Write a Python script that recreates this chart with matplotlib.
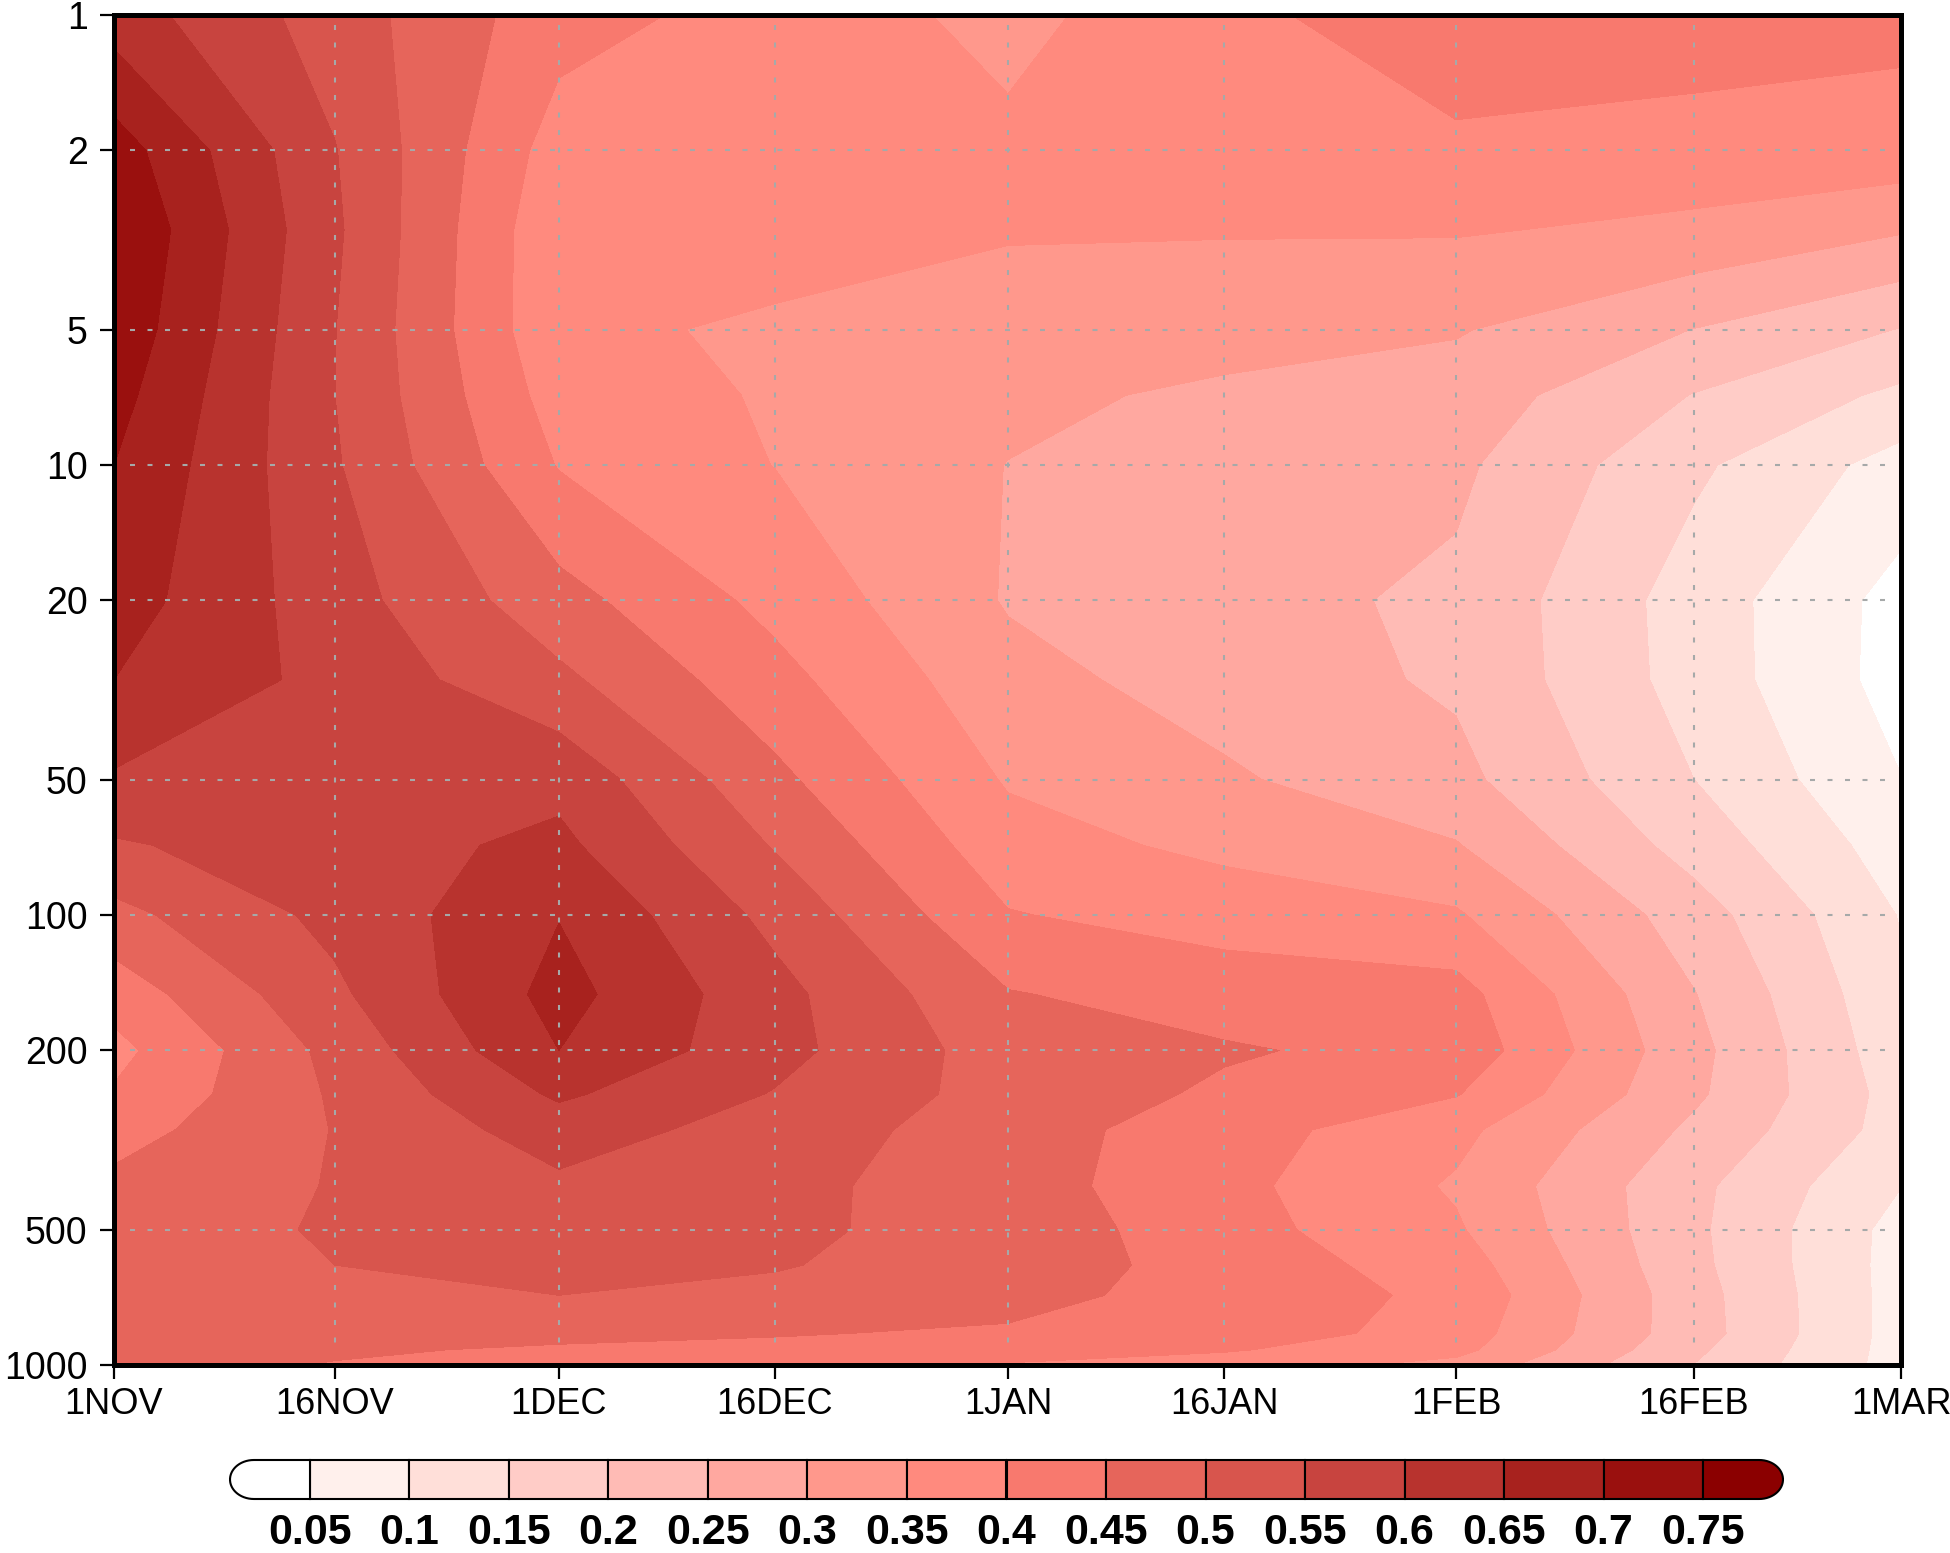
import matplotlib
matplotlib.use('Agg')
import matplotlib.pyplot as plt
import numpy as np
from matplotlib.patches import Polygon

# Time axis: tick labels and where they sit on the (slightly uneven) date axis
date_labels = ['1NOV', '16NOV', '1DEC', '16DEC', '1JAN', '16JAN', '1FEB', '16FEB', '1MAR']
date_pos = [0, 14.84, 29.88, 44.39, 60.03, 74.54, 90.12, 106.10, 120]

# Pressure levels of the data and the ones that get a tick
pressure = [1, 2, 3, 5, 7, 10, 20, 30, 50, 70, 100, 150, 200, 250, 300, 400, 500, 600, 700, 850, 925, 1000]
pressure_ticks = [1, 2, 5, 10, 20, 50, 100, 200, 500, 1000]

# Values, one row per pressure level, one column per date
values = [
    [.625, .526, .420, .379, .336, .386, .434, .430, .412],
    [.725, .552, .377, .368, .360, .380, .390, .378, .381],
    [.749, .558, .360, .370, .353, .353, .354, .340, .305],
    [.736, .551, .360, .343, .334, .322, .304, .249, .198],
    [.718, .550, .377, .345, .312, .290, .277, .198, .139],
    [.700, .555, .397, .349, .299, .272, .260, .159, .080],
    [.674, .572, .468, .385, .296, .268, .240, .127, .032],
    [.650, .584, .511, .416, .316, .279, .242, .129, .030],
    [.594, .580, .585, .462, .345, .307, .264, .150, .051],
    [.544, .578, .612, .496, .370, .338, .303, .179, .075],
    [.485, .564, .648, .535, .403, .378, .356, .223, .097],
    [.421, .540, .668, .566, .453, .428, .419, .252, .110],
    [.385, .515, .650, .567, .475, .455, .434, .265, .119],
    [.405, .506, .608, .547, .480, .442, .403, .259, .130],
    [.430, .502, .574, .528, .473, .422, .364, .240, .129],
    [.462, .503, .540, .514, .472, .415, .344, .212, .101],
    [.475, .505, .527, .509, .481, .420, .356, .210, .082],
    [.480, .500, .515, .503, .478, .429, .375, .213, .080],
    [.485, .490, .500, .490, .467, .429, .389, .220, .080],
    [.470, .460, .460, .453, .444, .432, .376, .222, .080],
    [.470, .455, .445, .440, .430, .405, .365, .210, .080],
    [.465, .448, .435, .425, .395, .375, .335, .199, .080],
]

# Contour levels and the colour of each band
clevels = [.05, .1, .15, .2, .25, .3, .35, .4, .45, .5, .55, .6, .65, .7, .75]
clabels = ['0.05', '0.1', '0.15', '0.2', '0.25', '0.3', '0.35', '0.4', '0.45',
           '0.5', '0.55', '0.6', '0.65', '0.7', '0.75']
band_colors = ['#FFFFFF', '#FFF0EC', '#FFDFD9', '#FFCCC7', '#FFBBB5', '#FFA8A0', '#FF988C', '#FF8A7E',
               '#F8796E', '#E6655B', '#D8554D', '#C8443F', '#B8332E', '#A8221E', '#9A100E', '#8B0000']

W, H = 1950, 1553
label_font = ['Liberation Sans', 'DejaVu Sans']

fig = plt.figure(figsize=(W / 100, H / 100), dpi=100)
fig.patch.set_facecolor('white')

# Main panel
left, right, top, bottom = 114, 1901, 15, 1365
ax = fig.add_axes([left / W, 1 - bottom / H, (right - left) / W, (bottom - top) / H])

logp = np.log10(pressure)
ax.contourf(date_pos, logp, np.array(values), levels=[0] + clevels + [1], colors=band_colors)

ax.set_xlim(0, 120)
ax.set_ylim(3, 0)

# Dotted grid, stops a little short of the frame as in the original
grid_style = dict(colors='#A6A9A9', linewidth=1.5, linestyles=[(0, (2.4, 6))], zorder=3)
ax.hlines(np.log10(pressure_ticks[1:-1]), 1.1, 119.1, **grid_style)
ax.vlines(date_pos[1:-1], 0.022, 2.967, **grid_style)

ax.set_xticks(date_pos)
ax.set_xticklabels(date_labels, family=label_font, fontsize=26)
ax.set_yticks(np.log10(pressure_ticks))
ax.set_yticklabels([str(p) for p in pressure_ticks], family=label_font, fontsize=27)
ax.tick_params(axis='both', length=10, width=1.6, color='black', direction='out')
ax.tick_params(axis='x', pad=6)
ax.tick_params(axis='y', pad=9)
for spine in ax.spines.values():
    spine.set_linewidth(3.6)
    spine.set_zorder(5)

# Colour bar with rounded ends
bar_left, bar_right, bar_top, bar_bottom = 230, 1783, 1460, 1499
cax = fig.add_axes([bar_left / W, 1 - bar_bottom / H, (bar_right - bar_left) / W, (bar_bottom - bar_top) / H])
cax.set_xlim(.0098, .7902)
cax.set_ylim(0, 1)
cax.axis('off')

cax.barh(0.5, [.05] * 14, height=1, left=clevels[:-1], color=band_colors[1:-1],
         edgecolor='black', linewidth=1.5, clip_on=False)

theta = np.linspace(np.pi / 2, 3 * np.pi / 2, 30)
cap_x = .0098 + .012 + .012 * np.cos(theta)
cap_y = .5 + .5 * np.sin(theta)
cax.add_patch(Polygon(np.r_[[[clevels[0], 1]], np.c_[cap_x, cap_y], [[clevels[0], 0]]],
                      facecolor=band_colors[0], edgecolor='black', linewidth=1.5, clip_on=False))
cap_x = .7902 - .012 - .012 * np.cos(theta)
cax.add_patch(Polygon(np.r_[[[clevels[-1], 1]], np.c_[cap_x, cap_y], [[clevels[-1], 0]]],
                      facecolor=band_colors[-1], edgecolor='black', linewidth=1.5, clip_on=False))

for level, label in zip(clevels, clabels):
    cax.text(level, -0.88, label, ha='center', va='center', family=label_font,
             fontsize=31, fontweight='bold', color='black', clip_on=False)

fig.savefig('out.png', dpi=100, facecolor='white')
